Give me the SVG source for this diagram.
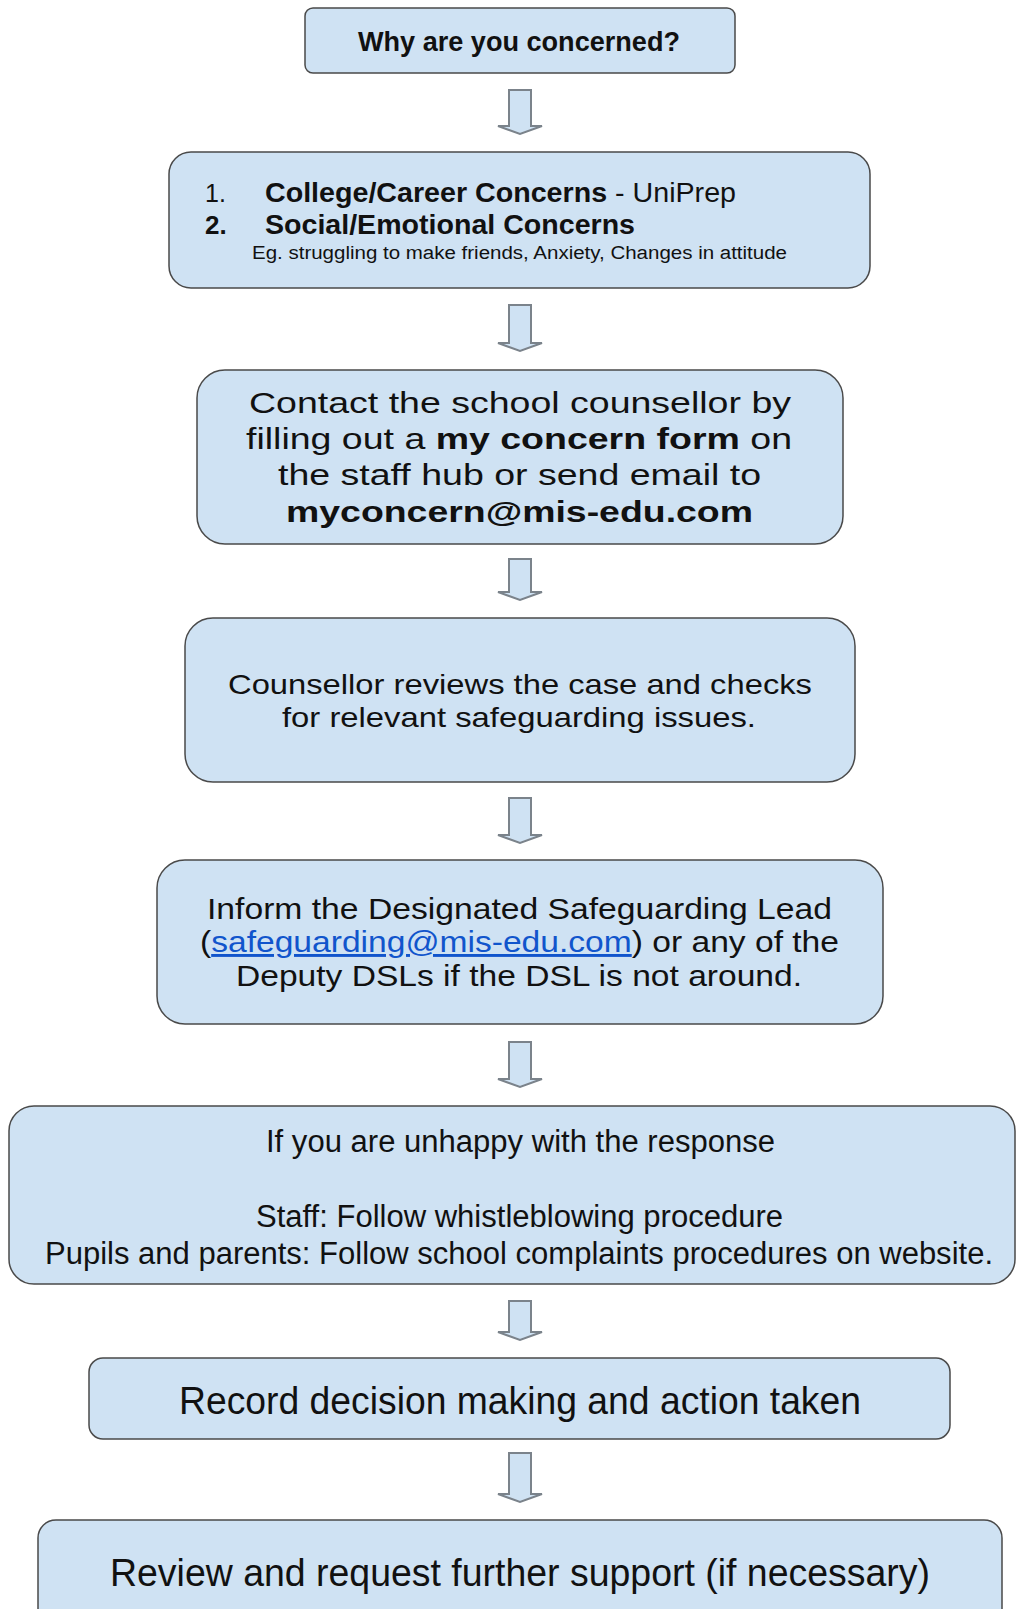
<svg xmlns="http://www.w3.org/2000/svg" width="1019" height="1609" viewBox="0 0 1019 1609">
<style>
.box{fill:#cfe2f3;stroke:#4a4a4a;stroke-width:1.5}
.arr{fill:#cfe2f3;stroke:#7b838b;stroke-width:2;stroke-linejoin:miter}
text{font-family:"Liberation Sans",Arial,sans-serif;fill:#111}
.c{text-anchor:middle}
.b{font-weight:bold}
.lnk{fill:#1155cc;text-decoration:underline}
</style>
<rect width="1019" height="1609" fill="#ffffff"/>
<g id="connectors">
<path class="arr" d="M509,90 H531 V126 H542 L520,134 L498,126 H509 Z"/>
<path class="arr" d="M509,305 H531 V343 H542 L520,351 L498,343 H509 Z"/>
<path class="arr" d="M509,559 H531 V592 H542 L520,600 L498,592 H509 Z"/>
<path class="arr" d="M509,798 H531 V835 H542 L520,843 L498,835 H509 Z"/>
<path class="arr" d="M509,1042 H531 V1079 H542 L520,1087 L498,1079 H509 Z"/>
<path class="arr" d="M509,1301 H531 V1332 H542 L520,1340 L498,1332 H509 Z"/>
<path class="arr" d="M509,1453 H531 V1494 H542 L520,1502 L498,1494 H509 Z"/>
</g>
<g id="n1">
<rect class="box" x="305" y="8" width="430" height="65" rx="8"/>
<text class="b" x="358" y="51" font-size="27" textLength="322" lengthAdjust="spacingAndGlyphs">Why are you concerned?</text>
</g>
<g id="n2">
<rect class="box" x="169" y="152" width="701" height="136" rx="22"/>
<text x="205" y="202" font-size="25">1.</text>
<text x="265" y="202" font-size="27" textLength="471" lengthAdjust="spacingAndGlyphs"><tspan class="b">College/Career Concerns</tspan> - UniPrep</text>
<text class="b" x="205" y="234" font-size="26">2.</text>
<text class="b" x="265" y="234" font-size="27" textLength="370" lengthAdjust="spacingAndGlyphs">Social/Emotional Concerns</text>
<text x="252" y="259" font-size="18" textLength="535" lengthAdjust="spacingAndGlyphs">Eg. struggling to make friends, Anxiety, Changes in attitude</text>
</g>
<g id="n3">
<rect class="box" x="197" y="370" width="646" height="174" rx="28"/>
<text x="249" y="413" font-size="30" textLength="542" lengthAdjust="spacingAndGlyphs">Contact the school counsellor by</text>
<text x="246" y="449" font-size="30" textLength="546" lengthAdjust="spacingAndGlyphs">filling out a <tspan class="b">my concern form</tspan> on</text>
<text x="278" y="485" font-size="30" textLength="483" lengthAdjust="spacingAndGlyphs">the staff hub or send email to</text>
<text class="b" x="286" y="522" font-size="30" textLength="467" lengthAdjust="spacingAndGlyphs">myconcern@mis-edu.com</text>
</g>
<g id="n4">
<rect class="box" x="185" y="618" width="670" height="164" rx="28"/>
<text x="228" y="694" font-size="28" textLength="584" lengthAdjust="spacingAndGlyphs">Counsellor reviews the case and checks</text>
<text x="282" y="727" font-size="28" textLength="474" lengthAdjust="spacingAndGlyphs">for relevant safeguarding issues.</text>
</g>
<g id="n5">
<rect class="box" x="157" y="860" width="726" height="164" rx="28"/>
<text x="207" y="919" font-size="29" textLength="625" lengthAdjust="spacingAndGlyphs">Inform the Designated Safeguarding Lead</text>
<text x="200" y="952" font-size="29" textLength="639" lengthAdjust="spacingAndGlyphs">(<tspan class="lnk">safeguarding@mis-edu.com</tspan>) or any of the</text>
<text x="236" y="986" font-size="29" textLength="566" lengthAdjust="spacingAndGlyphs">Deputy DSLs if the DSL is not around.</text>
</g>
<g id="n6">
<rect class="box" x="9" y="1106" width="1006" height="178" rx="25"/>
<text x="266" y="1152" font-size="31" textLength="509" lengthAdjust="spacingAndGlyphs">If you are unhappy with the response</text>
<text x="256" y="1227" font-size="31" textLength="527" lengthAdjust="spacingAndGlyphs">Staff: Follow whistleblowing procedure</text>
<text x="45" y="1264" font-size="31" textLength="948" lengthAdjust="spacingAndGlyphs">Pupils and parents: Follow school complaints procedures on website.</text>
</g>
<g id="n7">
<rect class="box" x="89" y="1358" width="861" height="81" rx="14"/>
<text x="179" y="1414" font-size="38" textLength="682" lengthAdjust="spacingAndGlyphs">Record decision making and action taken</text>
</g>
<g id="n8">
<rect class="box" x="38" y="1520" width="964" height="120" rx="18"/>
<text x="110" y="1586" font-size="38" textLength="820" lengthAdjust="spacingAndGlyphs">Review and request further support (if necessary)</text>
</g>
</svg>
